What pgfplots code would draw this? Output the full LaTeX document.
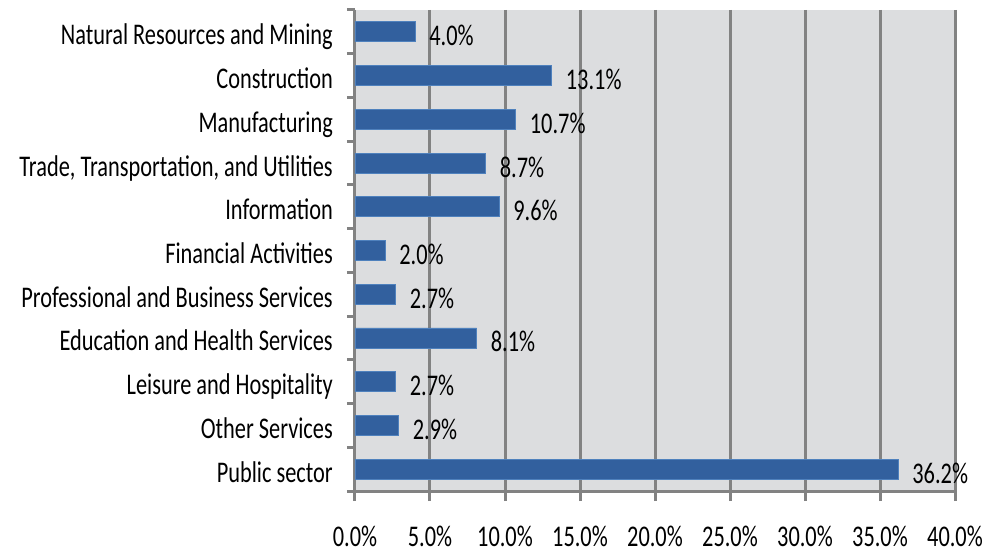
\documentclass[border=0pt]{standalone}
\usepackage{fontspec}
\setmainfont{Carlito}[FakeStretch=0.745]
\usepackage{pgfplots}
\pgfplotsset{compat=1.18}
\definecolor{bgray}{RGB}{220,221,223}
\definecolor{gline}{RGB}{130,130,130}
\definecolor{barfill}{RGB}{50,96,158}
\definecolor{baredge}{RGB}{79,129,189}
\begin{document}
\begin{tikzpicture}
\useasboundingbox (0,0) rectangle (986pt,556pt);
\begin{axis}[
  at={(355pt,65pt)}, anchor=south west,
  scale only axis, width=600pt, height=481pt,
  xbar, bar width=20pt,
  xmin=0, xmax=40, xtick={0,5,...,40},
  ymin=-0.5, ymax=10.5, y dir=reverse,
  ytick={0,...,10},
  yticklabels={Natural Resources and Mining, Construction, Manufacturing, {Trade, Transportation, and Utilities}, Information, Financial Activities, Professional and Business Services, Education and Health Services, Leisure and Hospitality, Other Services, Public sector},
  minor ytick={-0.5,0.5,...,10.5},
  major y tick style={draw=none},
  minor y tick style={draw=gline, line width=3pt},
  major x tick style={draw=gline, line width=3pt},
  tick align=outside, major tick length=10pt, minor tick length=8pt,
  axis x line*=bottom, axis y line*=left,
  axis line style={draw=gline, line width=3pt},
  axis background/.style={fill=bgray},
  xmajorgrids, grid style={draw=gline, line width=3pt},
  /pgf/number format/assume math mode=true,
  tick label style={font=\fontsize{30}{34}\selectfont, text=black, inner sep=0pt},
  xticklabel={\pgfmathprintnumber[fixed,fixed zerofill,precision=1]{\tick}\%},
  xticklabel style={anchor=north, yshift=-25pt},
  yticklabel style={anchor=base east, xshift=-12pt, yshift=-13pt},
  point meta=x,
  nodes near coords={\pgfmathprintnumber[fixed,fixed zerofill,precision=1]{\pgfplotspointmeta}\%},
  every node near coord/.append style={font=\fontsize{30}{34}\selectfont, anchor=base west, inner sep=0pt, xshift=14pt, yshift=-14pt, text=black},
  clip=false,
]
\addplot[fill=barfill, draw=baredge, line width=0.8pt] coordinates {
  (4.0,0) (13.1,1) (10.7,2) (8.7,3) (9.6,4) (2.0,5) (2.7,6) (8.1,7) (2.7,8) (2.9,9) (36.2,10)
};
\end{axis}
\end{tikzpicture}
\end{document}
